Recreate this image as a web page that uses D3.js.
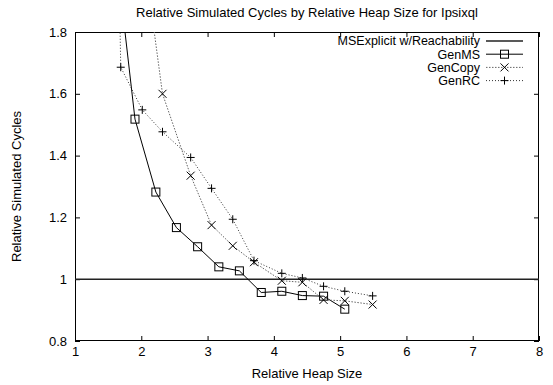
<!DOCTYPE html>
<html>
<head>
<meta charset="utf-8">
<script src="https://cdn.jsdelivr.net/npm/d3@7"></script>
<style>
  html, body { margin: 0; padding: 0; background: #fff; }
  svg { display: block; font-family: "Liberation Sans", Arial, Helvetica, sans-serif; }
</style>
</head>
<body>
<svg id="chart" width="553" height="385"></svg>
<script>
// ---- data ----
const title = "Relative Simulated Cycles by Relative Heap Size for Ipsixql";
const xLabel = "Relative Heap Size";
const yLabel = "Relative Simulated Cycles";
const xTicks = [1, 2, 3, 4, 5, 6, 7, 8];
const yTicks = [0.8, 1, 1.2, 1.4, 1.6, 1.8];

const msExplicitX = [1, 8];
const msExplicitY = [1, 1];

const genMSX = [1.69, 1.905, 2.22, 2.53, 2.85, 3.17, 3.48, 3.81, 4.12, 4.43, 4.75, 5.07];
const genMSY = [1.92, 1.518, 1.282, 1.167, 1.105, 1.040, 1.027, 0.957, 0.961, 0.947, 0.945, 0.903];

const genCopyX = [2.015, 2.32, 2.745, 3.06, 3.38, 3.70, 4.12, 4.43, 4.75, 5.07, 5.49];
const genCopyY = [2.09, 1.600, 1.335, 1.175, 1.108, 1.055, 0.995, 0.990, 0.933, 0.930, 0.918];

const genRCX = [1.66, 1.69, 2.015, 2.32, 2.745, 3.06, 3.38, 3.70, 4.12, 4.43, 4.75, 5.07, 5.49];
const genRCY = [2.05, 1.686, 1.548, 1.477, 1.394, 1.294, 1.194, 1.060, 1.019, 1.004, 0.977, 0.961, 0.946];

const legendNames = ["MSExplicit w/Reachability", "GenMS", "GenCopy", "GenRC"];

// ---- layout ----
const svg = d3.select("#chart");
const L = 75, R = 539, T = 32, B = 341;
const FS = "13px";
const LFS = "12.5px";
const x = d3.scaleLinear().domain([1, 8]).range([L, R]);
const y = d3.scaleLinear().domain([0.8, 1.8]).range([B, T]);

const styles = [
  { stroke: "#222", width: 1.4, dash: null, marker: null },
  { stroke: "#000", width: 1, dash: null, marker: "square" },
  { stroke: "#666", width: 1, dash: "1.5,1.5", marker: "x" },
  { stroke: "#333", width: 1, dash: "1,2", marker: "plus" }
];

const series = [
  d3.zip(msExplicitX, msExplicitY),
  d3.zip(genMSX, genMSY),
  d3.zip(genCopyX, genCopyY),
  d3.zip(genRCX, genRCY)
];

svg.append("defs").append("clipPath").attr("id", "clip")
  .append("rect").attr("x", L).attr("y", T).attr("width", R - L).attr("height", B - T);

function styleAxis(g) {
  g.select(".domain").remove();
  g.selectAll(".tick line").attr("stroke", "#000");
  g.selectAll(".tick text").attr("fill", "#000").style("font-size", FS)
    .style("font-family", "'Liberation Sans', Arial, sans-serif");
}
svg.append("g").attr("transform", `translate(0,${B})`)
  .call(d3.axisBottom(x).tickValues(xTicks).tickFormat(d3.format("d")).tickSizeInner(-5).tickSizeOuter(0).tickPadding(6))
  .call(styleAxis);
svg.append("g").attr("transform", `translate(0,${T})`)
  .call(d3.axisTop(x).tickValues(xTicks).tickFormat("").tickSizeInner(-5).tickSizeOuter(0))
  .call(styleAxis);
svg.append("g").attr("transform", `translate(${L},0)`)
  .call(d3.axisLeft(y).tickValues(yTicks).tickFormat(d => d === 1 ? "1" : d3.format(".1f")(d)).tickSizeInner(-5).tickSizeOuter(0).tickPadding(8))
  .call(styleAxis);
svg.append("g").attr("transform", `translate(${R},0)`)
  .call(d3.axisRight(y).tickValues(yTicks).tickFormat("").tickSizeInner(-5).tickSizeOuter(0))
  .call(styleAxis);

svg.append("rect").attr("x", L + 0.5).attr("y", T + 0.5).attr("width", R - L - 1).attr("height", B - T - 1)
  .attr("fill", "none").attr("stroke", "#000").attr("stroke-width", 1);

function drawMarker(g, type, cx, cy, color) {
  const s = 4;
  if (type === "square") {
    g.append("rect").attr("x", cx - s).attr("y", cy - s).attr("width", 2 * s).attr("height", 2 * s)
      .attr("fill", "none").attr("stroke", color).attr("stroke-width", 1);
  } else if (type === "x") {
    g.append("path").attr("d", `M${cx - s},${cy - s}L${cx + s},${cy + s}M${cx - s},${cy + s}L${cx + s},${cy - s}`)
      .attr("stroke", "#000").attr("stroke-width", 1).attr("fill", "none");
  } else if (type === "plus") {
    g.append("path").attr("d", `M${cx - s},${cy}L${cx + s},${cy}M${cx},${cy - s}L${cx},${cy + s}`)
      .attr("stroke", "#000").attr("stroke-width", 1).attr("fill", "none");
  }
}

const line = d3.line().x(d => x(d[0])).y(d => y(d[1]));
const plot = svg.append("g").attr("clip-path", "url(#clip)");
series.forEach((data, i) => {
  const st = styles[i];
  plot.append("path").datum(data).attr("d", line)
    .attr("fill", "none").attr("stroke", st.stroke).attr("stroke-width", st.width)
    .attr("stroke-dasharray", st.dash);
  if (st.marker) {
    data.forEach(d => {
      if (d[1] <= 1.8 && d[1] >= 0.8) drawMarker(plot, st.marker, x(d[0]), y(d[1]), st.stroke);
    });
  }
});

const legend = svg.append("g");
legendNames.forEach((name, i) => {
  const st = styles[i];
  const ly = 41 + i * 13.2;
  legend.append("text").attr("x", 480).attr("y", ly).attr("dy", "0.35em")
    .attr("text-anchor", "end").style("font-size", LFS).text(name);
  legend.append("line").attr("x1", 486).attr("x2", 523).attr("y1", ly).attr("y2", ly)
    .attr("stroke", st.stroke).attr("stroke-width", st.width).attr("stroke-dasharray", st.dash);
  if (st.marker) drawMarker(legend, st.marker, 504.5, ly, st.stroke);
});

svg.append("text").attr("x", 307).attr("y", 17).attr("text-anchor", "middle")
  .style("font-size", FS).text(title);
svg.append("text").attr("x", 307).attr("y", 378).attr("text-anchor", "middle")
  .style("font-size", FS).text(xLabel);
svg.append("text").attr("transform", `translate(21,${(T + B) / 2}) rotate(-90)`)
  .attr("text-anchor", "middle").style("font-size", FS).text(yLabel);
</script>
</body>
</html>
